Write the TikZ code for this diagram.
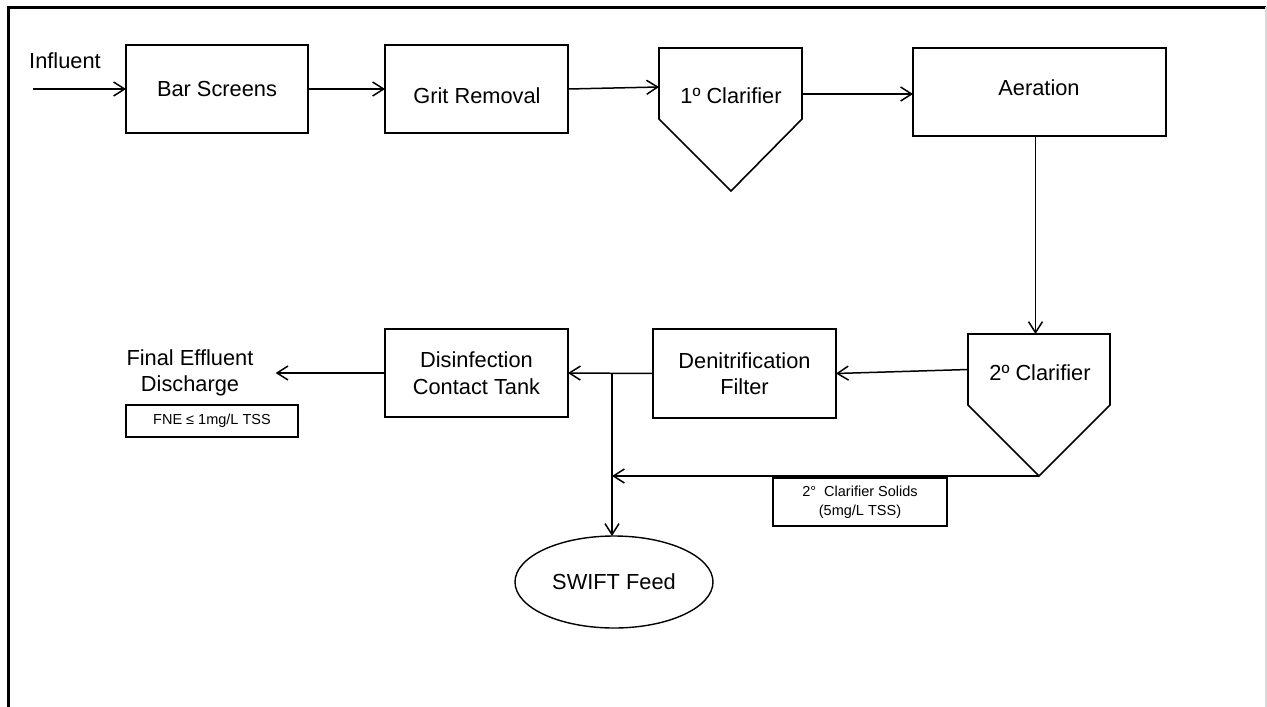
\documentclass[tikz,border=0pt]{standalone}
\usepackage{fontspec}
\setmainfont{Liberation Sans}
\usetikzlibrary{arrows.meta,shapes.geometric,calc}
\newcommand\bigfont{\fontsize{21.8}{26.5}\selectfont}
\newcommand\smallfont{\fontsize{14.5}{19}\selectfont}
\begin{document}
\begin{tikzpicture}[x=1pt,y=-1pt,
  box/.style={draw,line width=1.6pt,inner sep=0pt,outer sep=0pt,align=center,font=\bigfont},
  hidden/.style={inner sep=0pt,outer sep=0pt},
  txt/.style={inner sep=0pt,align=center,font=\bigfont},
  note/.style={draw,line width=1.6pt,inner sep=0pt,outer sep=0pt,align=center,font=\smallfont},
  arr/.style={line width=1.5pt,-{Straight Barb[length=11pt,width=14pt,line width=1.5pt]}},
  plain/.style={line width=1.5pt}]
\useasboundingbox (0,0) rectangle (1267,707);
\fill[white] (0,0) rectangle (1267,707);
% frame
\draw[line width=3pt] (8,707) -- (8,7) -- (1266,7);
\draw[line width=1.5pt,black!15] (1266,7) -- (1266,707);

% top row
\node[txt] (infl) at (65,61) {Influent};
\coordinate (instart) at (33,89);
\node[box,minimum width=182,minimum height=88] (bar) at (217,89) {Bar Screens};
\node[box,minimum width=183,minimum height=88] (grit) at (476.5,89) {};
\node[txt] (grittxt) at (477,96) {Grit Removal};
\node[hidden,minimum width=143,minimum height=71] (c1) at (730.5,83.5) {};
\coordinate (c1tip) at (731,191);
\draw[line width=1.6pt] (c1.north west) -- (c1.north east) -- (c1.south east) -- (c1tip) -- (c1.south west) -- cycle;
\node[txt] (c1txt) at (731,96) {1º Clarifier};
\node[box,minimum width=253,minimum height=88] (aer) at (1039.5,92) {};
\node[txt] (aertxt) at (1039,88) {Aeration};

% second row
\node[hidden,minimum width=142,minimum height=71] (c2) at (1039,369.5) {};
\coordinate (c2tip) at (1039,476);
\draw[line width=1.6pt] (c2.north west) -- (c2.north east) -- (c2.south east) -- (c2tip) -- (c2.south west) -- cycle;
\node[txt] (c2txt) at (1040,373) {2º Clarifier};
\node[box,minimum width=183,minimum height=89] (den) at (744.5,373.5) {Denitrification\\Filter};
\node[box,minimum width=183,minimum height=88] (dis) at (476.5,373) {Disinfection\\Contact Tank};
\node[txt,inner xsep=22pt] (fin) at (190,373) {Final Effluent\\Discharge};
\node[note,minimum width=172,minimum height=32] (fne) at (212,421) {FNE ≤ 1mg/L TSS};
\node[note,minimum width=174,minimum height=48] (sol) at (860,502) {2°\ \ Clarifier Solids\\(5mg/L TSS)};
\node[draw,ellipse,line width=1.4pt,inner sep=0pt,outer sep=0pt,minimum width=198,minimum height=92,font=\bigfont] (swift) at (614,582) {SWIFT Feed};
\coordinate (j) at (612,373);

% connectors
\draw[arr] (instart) -- (bar.west);
\draw[arr] (bar.east) -- (grit.west);
\draw[arr] (grit.east) -- ([yshift=-3.5pt]c1.west);
\draw[arr] ([yshift=-10.5pt]c1.east) -- ([yshift=-10.5pt]c1.east -| aer.west);
\draw[arr] ([xshift=-4pt]aer.south) -- ([xshift=-4pt]aer.south |- c2.north);
\draw[arr] (c2.west) -- (den.east);
\draw[arr] (den.west) -- (dis.east);
\draw[arr] (dis.west) -- (fin.east);
\draw[arr] (c2tip) -- (c2tip -| j);
\draw[arr] (j) -- (j |- swift.north);
\end{tikzpicture}
\end{document}
